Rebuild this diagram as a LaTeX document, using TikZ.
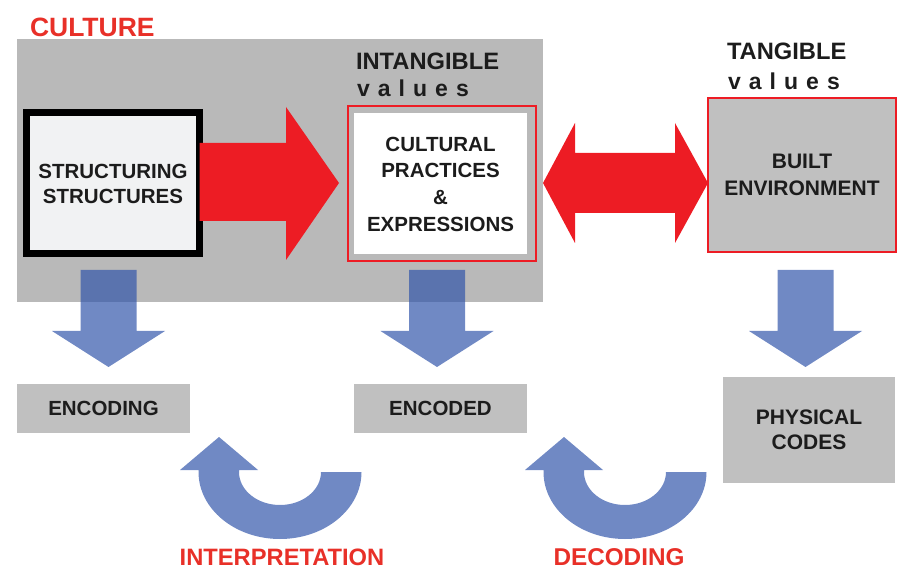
\documentclass[tikz,border=0pt]{standalone}
\usepackage{fontspec}
\setmainfont{Liberation Sans}
\definecolor{bggray}{RGB}{185,185,185}
\definecolor{boxgray}{RGB}{192,192,192}
\definecolor{arrred}{RGB}{237,28,36}
\definecolor{txtred}{RGB}{232,48,40}
\definecolor{blu}{RGB}{48,84,170}
\definecolor{ink}{RGB}{28,28,28}
\definecolor{palegray}{RGB}{241,242,243}
\begin{document}
\begin{tikzpicture}[x=1pt,y=-1pt,
  every node/.style={inner sep=0pt,outer sep=0pt},
  boxtxt/.style={text=ink,align=center,font=\fontsize{20.5}{25}\selectfont\bfseries},
  graybox/.style={boxtxt,fill=boxgray},
  redline/.style={draw=arrred,line width=2pt},
  redarrow/.style={fill=arrred},
  bluefill/.style={fill=blu,fill opacity=0.69},
  headtxt/.style={text=ink,anchor=base west,font=\fontsize{23.7}{28}\selectfont\bfseries},
  valtxt/.style={text=ink,anchor=base west,font=\fontsize{23}{28}\selectfont\bfseries\addfontfeatures{LetterSpace=35}},
  redtxt/.style={text=txtred,font=\fontsize{23.7}{28}\selectfont\bfseries},
  downarrow/.pic={\fill[bluefill] (-28,0) -- (28,0) -- (28,61) -- (56.5,61) -- (0,97) -- (-56.5,61) -- (-28,61) -- cycle;},
  uturn/.pic={\fill[bluefill] (81.5,0) arc[start angle=0,end angle=-180,x radius=81.5pt,y radius=67pt]
     -- (-81.5,-2) -- (-100,-2) -- (-61,-35) -- (-22,-2) -- (-41,-2) -- (-41,0)
     arc[start angle=180,end angle=360,x radius=41pt,y radius=33pt] -- cycle;}
]
\useasboundingbox (0,0) rectangle (900,569);

% culture background
\node[fill=bggray,minimum width=526pt,minimum height=263pt] (culture) at (280,170.5) {};
\node[anchor=base west,text=txtred,font=\fontsize{26.5}{30}\selectfont\bfseries] (culturelbl) at (30,37) {CULTURE};

% structuring structures
\node[boxtxt,fill=palegray,draw=black,line width=7pt,minimum width=173pt,minimum height=141pt] (struct) at (113,183.5) {STRUCTURING\\STRUCTURES};

% cultural practices
\node[redline,fill=bggray,minimum width=188pt,minimum height=155pt] (cpbox) at (442,183.5) {};
\node[boxtxt,fill=white,minimum width=173pt,minimum height=141pt,font=\fontsize{20.5}{26.7}\selectfont\bfseries] (cpin) at (440.5,184) {CULTURAL\\PRACTICES\\\&\\EXPRESSIONS};
\node[headtxt] (intang) at (356,70) {INTANGIBLE};
\node[valtxt] (intval) at (357,97) {values};

% built environment
\node[redline,graybox,font=\fontsize{21}{27}\selectfont\bfseries,minimum width=188pt,minimum height=154pt] (built) at (802,175) {BUILT\\ENVIRONMENT};
\node[headtxt] (tang) at (727,60) {TANGIBLE};
\node[valtxt] (tangval) at (728,90) {values};

% red arrows
\coordinate (rtip) at ([xshift=-9pt]cpbox.west |- 0,183);
\fill[redarrow] (struct.east |- 0,143) -- (286,143) -- (286,107) -- (rtip) -- (286,260) -- (286,221) -- (struct.east |- 0,221) -- cycle;
\fill[redarrow] (culture.east |- 0,183) -- (575,123) -- (575,153) -- (675,153) -- (675,123) -- (built.west |- 0,183) -- (675,243) -- (675,213) -- (575,213) -- (575,243) -- cycle;

% lower boxes
\node[graybox,minimum width=173pt,minimum height=49pt] (encoding) at (103.5,408.5) {ENCODING};
\node[graybox,minimum width=173pt,minimum height=49pt] (encoded) at (440.5,408.5) {ENCODED};
\node[graybox,font=\fontsize{21}{25}\selectfont\bfseries,minimum width=172pt,minimum height=106pt] (physical) at (809,430) {PHYSICAL\\CODES};

% blue arrows
\pic at (108.5,270) {downarrow};
\pic at (437,270) {downarrow};
\pic at (805.5,270) {downarrow};
\pic at (280,472) {uturn};
\pic at (625,472) {uturn};

% bottom labels
\node[redtxt,anchor=base] (interp) at (282,565) {INTERPRETATION};
\node[redtxt,anchor=base,font=\fontsize{24.3}{28}\selectfont\bfseries] (decod) at (619,565) {DECODING};
\end{tikzpicture}
\end{document}
